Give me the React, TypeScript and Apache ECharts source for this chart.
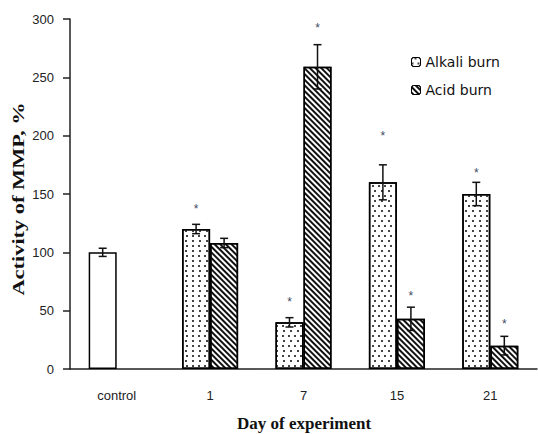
import React, { useEffect, useRef } from "react";
import * as echarts from "echarts";

const categories = ["control", "1", "7", "15", "21"];
const controlValues: (number | string)[] = [100, "-", "-", "-", "-"];
const alkaliValues: (number | string)[] = ["-", 120, 40, 160, 150];
const acidValues: (number | string)[] = ["-", 108, 259, 43, 20];
const controlErr = [3.5, 0, 0, 0, 0];
const alkaliErr = [0, 4, 4, 15, 10];
const acidErr = [0, 4, 19, 10, 8];
// positions of the significance stars (value units), null = no star
const alkaliStars: (number | null)[] = [null, 140, 60, 202, 171];
const acidStars: (number | null)[] = [null, null, 295, 65, 41];
const yTicks = { min: 0, max: 300, interval: 50 };

const GAP = 0.4;
const SANS = '"Liberation Sans", Arial, sans-serif';

export default function App() {
  const ref = useRef<HTMLDivElement>(null);
  useEffect(() => {
    if (!ref.current) return;
    const chart = echarts.init(ref.current, null, { renderer: "svg" });

    const errData: any[] = [];
    categories.forEach((_, i) => {
      if (typeof controlValues[i] === "number")
        errData.push([i, controlValues[i], controlErr[i], 0, null]);
      if (typeof alkaliValues[i] === "number")
        errData.push([i, alkaliValues[i], alkaliErr[i], 0, alkaliStars[i]]);
      if (typeof acidValues[i] === "number")
        errData.push([i, acidValues[i], acidErr[i], 1, acidStars[i]]);
    });

    const dotDecal = {
      symbol: "rect",
      symbolSize: 1,
      color: "#444",
      dashArrayX: [[1.2, 3.8], [0, 2.5, 1.2, 1.3]],
      dashArrayY: [1.2, 2.1],
      rotation: 0,
    };
    const hatchDecal = {
      symbol: "rect",
      symbolSize: 1,
      color: "#111",
      dashArrayX: [[1, 0]],
      dashArrayY: [1.8, 1.4],
      rotation: Math.PI / 4,
    };

    chart.setOption({
      animation: false,
      backgroundColor: "#fff",
      grid: { left: 70, right: 1, top: 19, bottom: 65 },
      legend: {
        orient: "vertical",
        left: 406,
        top: 50,
        itemWidth: 9,
        itemHeight: 9,
        itemGap: 14,
        data: ["Alkali burn", "Acid burn"],
        textStyle: { fontFamily: "DejaVu Sans", fontSize: 14, color: "#111" },
        itemStyle: { borderColor: "#000", borderWidth: 1 },
      },
      xAxis: {
        type: "category",
        data: categories,
        axisLine: { lineStyle: { color: "#222", width: 1.5 } },
        axisTick: { length: 6, lineStyle: { color: "#222", width: 1.5 } },
        axisLabel: {
          margin: 20,
          fontFamily: SANS,
          fontSize: 13,
          color: "#222",
        },
      },
      yAxis: {
        type: "value",
        min: yTicks.min,
        max: yTicks.max,
        interval: yTicks.interval,
        axisLine: { show: true, lineStyle: { color: "#222", width: 1.5 } },
        axisTick: { show: true, length: 7, lineStyle: { color: "#222", width: 1.5 } },
        splitLine: { show: false },
        axisLabel: {
          margin: 16,
          fontFamily: SANS,
          fontSize: 13,
          color: "#222",
        },
      },
      series: [
        {
          name: "Control",
          type: "bar",
          stack: "left",
          data: controlValues,
          barCategoryGap: GAP * 100 + "%",
          barGap: "0%",
          itemStyle: { color: "#fff", borderColor: "#000", borderWidth: 1.5 },
        },
        {
          name: "Alkali burn",
          type: "bar",
          stack: "left",
          data: alkaliValues,
          barCategoryGap: GAP * 100 + "%",
          barGap: "0%",
          itemStyle: {
            color: "#fff",
            borderColor: "#000",
            borderWidth: 1.5,
            decal: dotDecal,
          },
        },
        {
          name: "Acid burn",
          type: "bar",
          data: acidValues,
          barCategoryGap: GAP * 100 + "%",
          barGap: "0%",
          itemStyle: {
            color: "#fff",
            borderColor: "#000",
            borderWidth: 1.5,
            decal: hatchDecal,
          },
        },
        {
          name: "errors",
          type: "custom",
          z: 10,
          encode: { x: 0, y: 1 },
          data: errData,
          renderItem: (params: any, api: any) => {
            const idx = api.value(0);
            const v = api.value(1);
            const e = api.value(2);
            const slot = api.value(3);
            const star = api.value(4);
            const catW = api.size([1, 0])[0];
            const barW = (catW * (1 - GAP)) / 2;
            const xc = api.coord([idx, 0])[0] + (slot === 0 ? -barW / 2 : barW / 2);
            const yHi = api.coord([idx, v + e])[1];
            const yLo = api.coord([idx, v - e])[1];
            const cap = 4;
            const ls = { stroke: "#111", lineWidth: 1.5 };
            const children: any[] = [
              { type: "line", shape: { x1: xc, y1: yHi, x2: xc, y2: yLo }, style: ls },
              { type: "line", shape: { x1: xc - cap, y1: yHi, x2: xc + cap, y2: yHi }, style: ls },
              { type: "line", shape: { x1: xc - cap, y1: yLo, x2: xc + cap, y2: yLo }, style: ls },
            ];
            if (star != null && !isNaN(star)) {
              const ys = api.coord([idx, star])[1];
              children.push({
                type: "text",
                x: xc,
                y: ys + 3,
                style: {
                  text: "*",
                  font: '12px "Liberation Sans", Arial, sans-serif',
                  fill: "#3d4a66",
                  align: "center",
                  verticalAlign: "middle",
                },
              });
            }
            return { type: "group", children };
          },
        },
      ],
      graphic: [
        {
          type: "text",
          x: 19,
          y: 199,
          rotation: Math.PI / 2,
          scaleX: 1.4,
          style: {
            text: "Activity of MMP, %",
            font: 'bold 16px "Liberation Serif", "Times New Roman", serif',
            fill: "#111",
            align: "center",
            verticalAlign: "middle",
          },
        },
        {
          type: "text",
          x: 304,
          y: 423,
          style: {
            text: "Day of experiment",
            font: 'bold 17px "Liberation Serif", "Times New Roman", serif',
            fill: "#111",
            align: "center",
            verticalAlign: "middle",
          },
        },
      ],
    });
    return () => chart.dispose();
  }, []);
  return (
    <div
      ref={ref}
      style={{ position: "absolute", left: 0, top: 0, width: 538, height: 434 }}
    />
  );
}
